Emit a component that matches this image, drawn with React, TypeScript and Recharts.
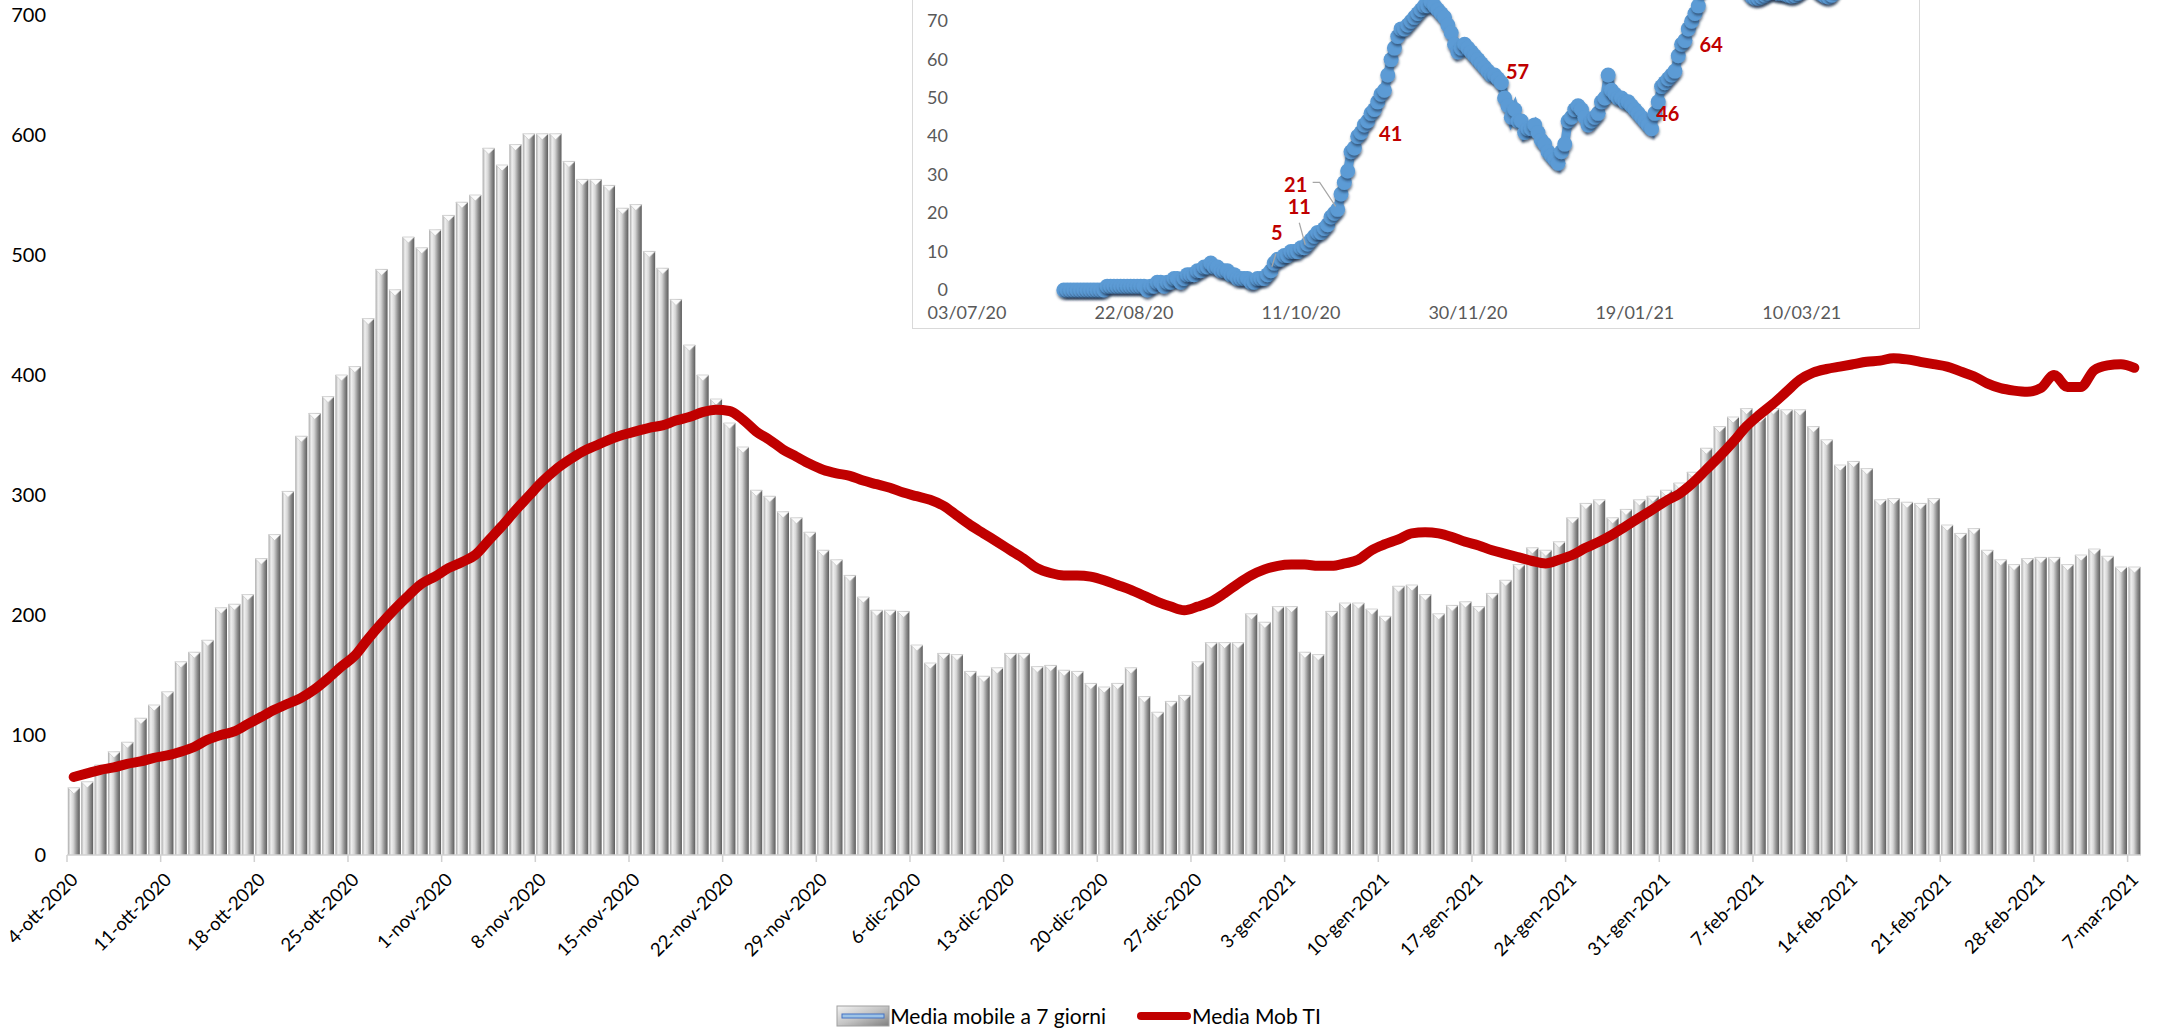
import React from 'react';
import { Bar, ComposedChart, Line, LineChart, XAxis, YAxis } from 'recharts';

// ---- main chart data (one entry per day, 4-ott-2020 .. 7-mar-2021) ----
const weekLabels = [
  '4-ott-2020', '11-ott-2020', '18-ott-2020', '25-ott-2020', '1-nov-2020', '8-nov-2020',
  '15-nov-2020', '22-nov-2020', '29-nov-2020', '6-dic-2020', '13-dic-2020', '20-dic-2020',
  '27-dic-2020', '3-gen-2021', '10-gen-2021', '17-gen-2021', '24-gen-2021', '31-gen-2021',
  '7-feb-2021', '14-feb-2021', '21-feb-2021', '28-feb-2021', '7-mar-2021',
];

const media7 = [
  56, 61, 75, 86, 94, 114, 125, 136, 161, 169,
  179, 206, 209, 217, 247, 267, 303, 349, 368, 382,
  400, 407, 447, 488, 471, 515, 506, 521, 533, 544,
  550, 589, 575, 592, 601, 601, 601, 578, 563, 563,
  558, 539, 542, 503, 489, 463, 425, 400, 380, 360,
  340, 304, 299, 286, 281, 269, 254, 246, 233, 215,
  204, 204, 203, 175, 160, 168, 167, 153, 149, 156,
  168, 168, 157, 158, 154, 153, 143, 140, 143, 156,
  132, 119, 128, 133, 161, 177, 177, 177, 201, 194,
  207, 207, 169, 167, 203, 210, 210, 205, 199, 224,
  225, 217, 201, 208, 211, 207, 218, 229, 242, 256,
  254, 261, 281, 293, 296, 281, 288, 296, 299, 304,
  310, 319, 339, 357, 365, 372, 365, 372, 371, 371,
  357, 346, 325, 328, 322, 296, 297, 294, 293, 297,
  275, 268, 272, 254, 246, 242, 247, 248, 248, 242,
  250, 255, 249, 240, 240,
];

const mediaTI = [
  65, 68, 71, 73, 76, 78, 81, 83, 86, 90,
  96, 100, 103, 109, 115, 121, 126, 131, 138, 147,
  157, 166, 180, 193, 205, 216, 226, 232, 239, 244,
  250, 262, 274, 287, 299, 311, 321, 329, 336, 341,
  346, 350, 353, 356, 358, 362, 365, 369, 371, 370,
  363, 353, 346, 338, 332, 326, 321, 318, 316, 312,
  309, 306, 302, 299, 296, 291, 283, 275, 268, 261,
  254, 247, 239, 235, 233, 233, 232, 229, 225, 221,
  216, 211, 207, 204, 207, 211, 218, 226, 233, 238,
  241, 242, 242, 241, 241, 243, 246, 254, 259, 263,
  268, 269, 268, 265, 261, 258, 254, 251, 248, 245,
  243, 246, 250, 256, 261, 267, 274, 281, 288, 295,
  301, 310, 321, 332, 344, 357, 367, 376, 386, 396,
  402, 405, 407, 409, 411, 412, 414, 413, 411, 409,
  407, 403, 399, 393, 389, 387, 386, 389, 400, 390,
  390, 404, 408, 409, 406,
];

const yTicks = [0, 100, 200, 300, 400, 500, 600, 700];

// ---- inset chart data (days counted from 03/07/20) ----
const insetStartDay = 29;
const insetValues = [
  0, 0, 0, 0, 0, 0, 0, 0, 0, 0, 0, 0, 0,
  1, 1, 1, 1, 1, 1, 1, 1, 1, 1, 1, 1, 0, 1,
  1, 2, 2, 1, 2, 2, 3,
  3, 2, 3, 4, 4,
  4, 5, 5, 6, 6,
  7, 6, 6,
  5, 5, 5, 4, 4,
  3, 3, 3, 3, 2, 2, 3, 3,
  3, 4, 5,
  7, 8, 8, 9, 9, 10, 10,
  10, 11, 11, 12, 13, 14,
  15, 15, 16, 17, 19, 20, 21,
  25, 28, 31, 36, 37, 40,
  41,
  43, 44, 46, 47, 49, 51, 52,
  56, 60, 63, 66, 68,
  68, 69, 70, 71, 72,
  73, 74, 74, 75, 74,
  73, 72, 71, 69, 67,
  64, 62, 63, 64, 63,
  62, 61, 60, 59, 58,
  57, 56, 56, 55, 54,
  50, 48, 45, 47, 44,
  44, 41, 42, 42, 43,
  41, 39, 38, 36, 35,
  34, 33, 36, 38, 44,
  45, 47, 48, 47, 45,
  43, 44, 45, 46, 49,
  50, 56, 52, 51, 50,
  50, 49, 49, 48, 47,
  46, 45, 44, 43, 42,
  46, 49, 53, 54, 55,
  56, 57, 61, 64, 65,
  68, 70, 72, 74,
  78, 81, 84, 86, 88, 90, 91, 90, 88, 86,
  84, 82, 80, 79, 77.5, 76.4, 76, 76, 76.3, 76.8,
  77.3, 77.8, 77.5, 77.2, 77.2, 77, 76.7, 76.5, 76.7, 77.2,
  77.8, 78.5, 79.5, 79.5, 78.5, 77.6, 77, 76.5, 76.3, 76.8,
  78, 80, 82,
];
const insetTickDays = [0, 50, 100, 150, 200, 250];
const insetTickLabels = ['03/07/20', '22/08/20', '11/10/20', '30/11/20', '19/01/21', '10/03/21'];
const insetYTicks = [0, 10, 20, 30, 40, 50, 60, 70];
const insetLabelDays = [91, 101, 111, 118, 156, 201, 214];

// ---- layout ----
const CHART_W = 2157;
const CHART_H = 1029;
const PLOT_L = 67;
const PLOT_R = 2141;
const PLOT_T = 15;
const PLOT_B = 855;
const BAND = (PLOT_R - PLOT_L) / media7.length;
const FONT = 'Lato, "Liberation Sans Narrow", "Liberation Sans", sans-serif';

const INSET_LEFT = 913;
const INSET_TOP = -104;
const INSET_W = 1006;
const INSET_H = 432;

const mainData = media7.map((v, i) => ({ i, media7: v, ti: mediaTI[i] }));
const insetData = insetValues.map((v, k) => ({ d: insetStartDay + k, v }));

const MainXTick = (props: any) => {
  const { x, payload } = props;
  const tx = x - BAND / 2;
  const label = weekLabels[Math.round(payload.value / 7)];
  return (
    <g>
      <line x1={tx} y1={PLOT_B} x2={tx} y2={PLOT_B + 7} stroke="#d0d0d0" strokeWidth={1.5} />
      <g transform={`translate(${tx + 12}, ${PLOT_B + 26}) rotate(-45)`}>
        <text x={0} y={0} textAnchor="end" fontSize={18.5} fontFamily={FONT} fill="#000">
          {label}
        </text>
      </g>
    </g>
  );
};

const MainYTick = (props: any) => {
  const { y, payload } = props;
  return (
    <text x={46} y={y + 7} textAnchor="end" fontSize={20} fontFamily={FONT} fill="#000">
      {payload.value}
    </text>
  );
};

const CylBar = (props: any) => {
  const { x, y, width, height } = props;
  if (!height || height <= 0) return null;
  const tip = Math.min(width * 0.5, height);
  return (
    <g>
      <rect x={x} y={y} width={width} height={height} fill="url(#cylGrad)" />
      <polygon
        points={`${x},${y} ${x + width},${y} ${x + width / 2},${y + tip}`}
        fill="#fbfbfb"
        stroke="#c4c4c4"
        strokeWidth={0.7}
      />
    </g>
  );
};

const InsetXTick = (props: any) => {
  const { x, payload } = props;
  const idx = insetTickDays.indexOf(payload.value);
  return (
    <text x={x} y={INSET_H - 38 + 29} textAnchor="middle" fontSize={18} fontFamily={FONT} fill="#595959">
      {insetTickLabels[idx]}
    </text>
  );
};

const InsetYTick = (props: any) => {
  const { y, payload } = props;
  return (
    <text x={35} y={y + 6} textAnchor="end" fontSize={18} fontFamily={FONT} fill="#595959">
      {payload.value}
    </text>
  );
};

const InsetDot = (props: any) => {
  const { cx, cy, index } = props;
  return <circle key={`dot-${index}`} cx={cx} cy={cy} r={7.5} fill="#5B9BD5" filter="url(#dotShadow)" />;
};

// where each data label sits relative to its point
const labelPlacement: Record<number, string> = {
  91: 'above5',
  101: 'above11',
  111: 'left21',
  118: 'right',
  156: 'right',
  201: 'right',
  214: 'right',
};

const InsetLabel = (props: any) => {
  const { cx, cy, index, payload } = props;
  const key = `lbl-${index}`;
  if (!insetLabelDays.includes(payload.d)) return <g key={key} />;
  const text = String(Math.round(payload.v));
  const place = labelPlacement[payload.d];
  const style = { fontSize: 20, fontWeight: 700, fontFamily: FONT, fill: '#C00000' } as const;
  if (place === 'above5') {
    return (
      <g key={key}>
        <polyline points={`${cx + 5},${cy - 17} ${cx + 1},${cy - 4}`} fill="none" stroke="#a6a6a6" strokeWidth={1.2} />
        <text x={cx + 6} y={cy - 31} textAnchor="middle" {...style}>{text}</text>
      </g>
    );
  }
  if (place === 'above11') {
    return (
      <g key={key}>
        <polyline points={`${cx - 5},${cy - 25} ${cx + 1},${cy - 3}`} fill="none" stroke="#a6a6a6" strokeWidth={1.2} />
        <text x={cx - 5} y={cy - 34} textAnchor="middle" {...style}>{text}</text>
      </g>
    );
  }
  if (place === 'left21') {
    return (
      <g key={key}>
        <polyline points={`${cx - 25},${cy - 27} ${cx - 18},${cy - 27} ${cx - 2},${cy - 3}`} fill="none" stroke="#a6a6a6" strokeWidth={1.2} />
        <text x={cx - 42} y={cy - 17} textAnchor="middle" {...style}>{text}</text>
      </g>
    );
  }
  return (
    <g key={key}>
      <text x={cx + 18} y={cy + 8} textAnchor="start" {...style}>{text}</text>
    </g>
  );
};

const Inset = () => (
  <div
    style={{
      position: 'absolute',
      left: INSET_LEFT,
      top: INSET_TOP,
      width: INSET_W,
      height: INSET_H,
      background: '#fff',
      outline: '1.5px solid #d9d9d9',
      zIndex: 2,
    }}
    className="inset-box"
  >
    <LineChart width={INSET_W} height={INSET_H} data={insetData} margin={{ top: 10, right: 17, bottom: 0, left: 0 }}>
      <defs>
        <filter id="dotShadow" x="-50%" y="-50%" width="200%" height="220%">
          <feDropShadow dx="0.5" dy="2.5" stdDeviation="1.2" floodColor="#1d3250" floodOpacity="0.6" />
        </filter>
      </defs>
      <XAxis
        dataKey="d"
        type="number"
        domain={[0, 280]}
        ticks={insetTickDays}
        height={38}
        axisLine={false}
        tickLine={false}
        tick={<InsetXTick />}
      />
      <YAxis domain={[0, 100]} ticks={insetYTicks} width={54} axisLine={false} tickLine={false} tick={<InsetYTick />} />
      <Line
        dataKey="v"
        type="linear"
        stroke="#5B9BD5"
        strokeWidth={9}
        dot={InsetDot}
        activeDot={false}
        isAnimationActive={false}
      />
      <Line
        dataKey="v"
        type="linear"
        stroke="none"
        dot={InsetLabel}
        activeDot={false}
        isAnimationActive={false}
      />
    </LineChart>
  </div>
);

const Legend = () => (
  <div
    style={{
      position: 'absolute',
      left: 0,
      top: 1003,
      width: CHART_W,
      display: 'flex',
      justifyContent: 'center',
      alignItems: 'center',
      fontFamily: FONT,
      fontSize: 21,
      color: '#000',
    }}
  >
    <svg width={54} height={22} style={{ display: 'block' }}>
      <defs>
        <linearGradient id="legGrad" x1="0" y1="0" x2="1" y2="1">
          <stop offset="0" stopColor="#f2f2f2" />
          <stop offset="0.5" stopColor="#c4c4c4" />
          <stop offset="1" stopColor="#7f7f7f" />
        </linearGradient>
      </defs>
      <rect x={1} y={1} width={52} height={20} fill="url(#legGrad)" stroke="#a0a0a0" />
      <rect x={6} y={9} width={42} height={4} fill="#9dc3e6" stroke="#4472c4" strokeWidth={1} />
    </svg>
    <span style={{ marginRight: 30 }}>Media mobile a 7 giorni</span>
    <svg width={56} height={22} style={{ display: 'block' }}>
      <line x1={5} y1={11} x2={51} y2={11} stroke="#C00000" strokeWidth={8} strokeLinecap="round" />
    </svg>
    <span>Media Mob TI</span>
  </div>
);

export default function App() {
  return (
    <div style={{ position: 'relative', width: CHART_W, height: CHART_H, overflow: 'hidden', background: '#fff' }}>
      <style>{'body{margin:0} .inset-box .recharts-line-curve{filter:drop-shadow(0.5px 2.5px 1.2px rgba(29,50,80,0.55));}'}</style>
      <ComposedChart
        width={CHART_W}
        height={CHART_H}
        data={mainData}
        margin={{ top: PLOT_T, right: CHART_W - PLOT_R, bottom: 0, left: 0 }}
        barCategoryGap="6%"
      >
        <defs>
          <linearGradient id="cylGrad" x1="0" y1="0" x2="1" y2="0">
            <stop offset="0" stopColor="#a8a8a8" />
            <stop offset="0.22" stopColor="#efefef" />
            <stop offset="0.45" stopColor="#d6d6d6" />
            <stop offset="0.75" stopColor="#8e8e8e" />
            <stop offset="1" stopColor="#5c5c5c" />
          </linearGradient>
        </defs>
        <XAxis
          dataKey="i"
          interval={6}
          height={CHART_H - PLOT_B}
          axisLine={{ stroke: '#d0d0d0', strokeWidth: 1.5 }}
          tickLine={false}
          tick={<MainXTick />}
        />
        <YAxis domain={[0, 700]} ticks={yTicks} width={PLOT_L} axisLine={false} tickLine={false} tick={<MainYTick />} />
        <Bar dataKey="media7" shape={(p: any) => <CylBar {...p} />} isAnimationActive={false} />
        <Line
          dataKey="ti"
          type="monotone"
          stroke="#C00000"
          strokeWidth={10}
          strokeLinecap="round"
          strokeLinejoin="round"
          dot={false}
          activeDot={false}
          isAnimationActive={false}
        />
      </ComposedChart>
      <Inset />
      <Legend />
    </div>
  );
}
